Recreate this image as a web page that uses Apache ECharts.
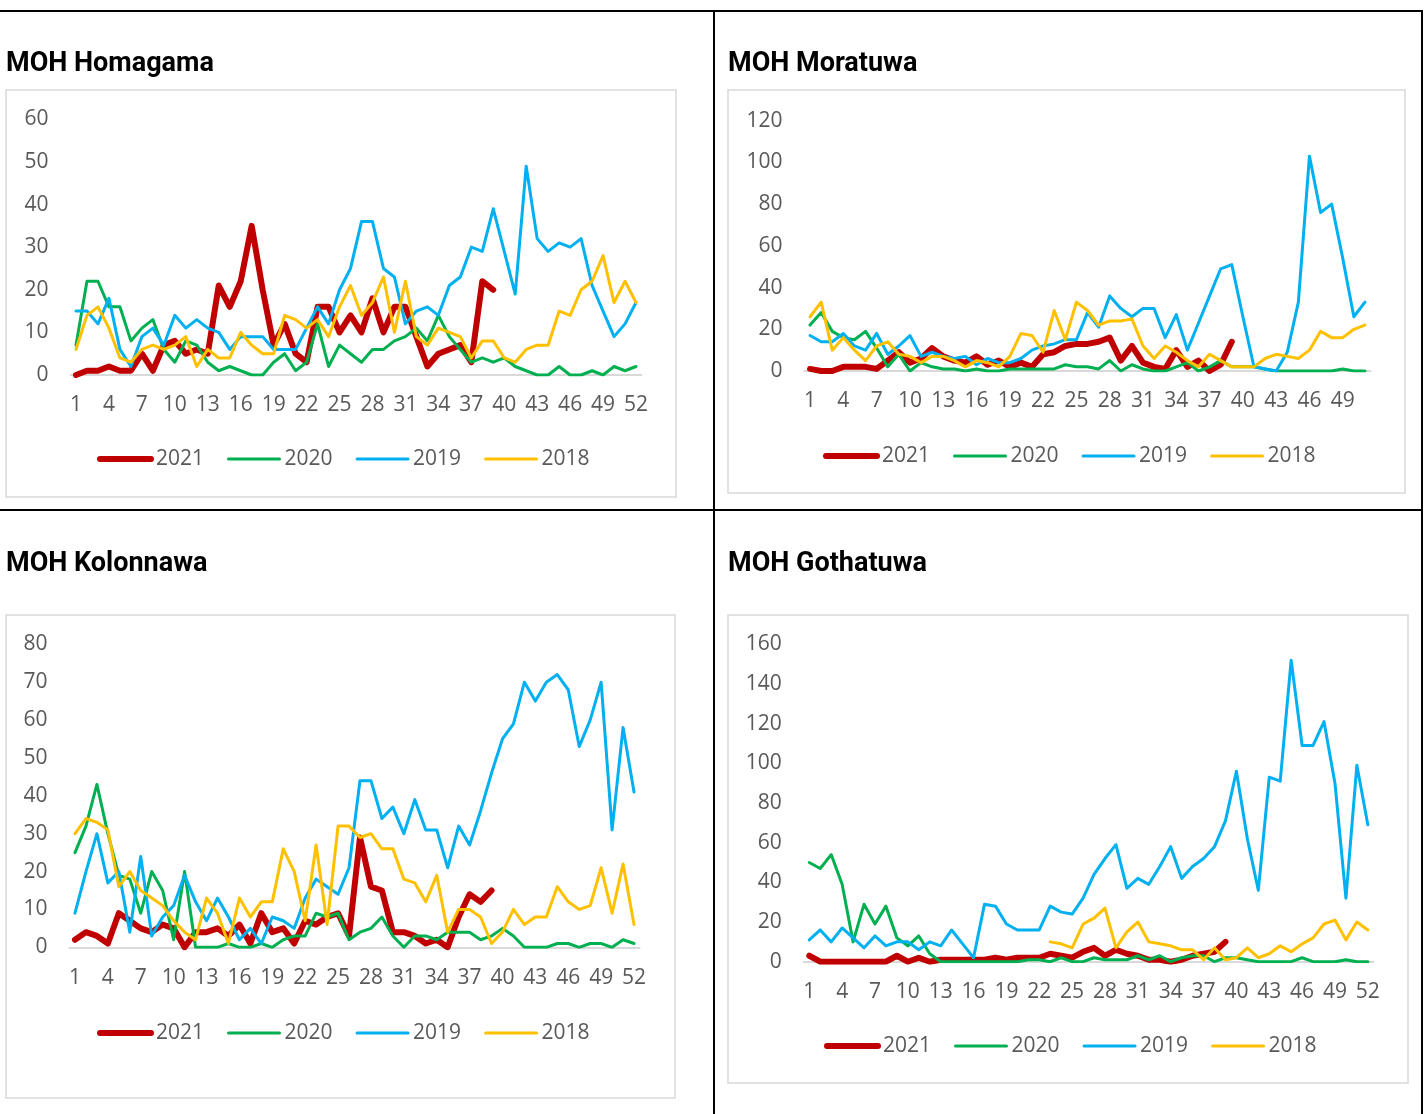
<!DOCTYPE html>
<html><head><meta charset="utf-8">
<script src="https://cdn.jsdelivr.net/npm/echarts@6/dist/echarts.min.js"></script>
<style>html,body{margin:0;padding:0;background:#fff}#c{width:1426px;height:1114px}</style>
</head><body><div id="c"></div>
<script>
// ---- categories (epidemiological weeks) ----
const weeks52 = ['1','2','3','4','5','6','7','8','9','10','11','12','13','14','15','16','17','18','19','20','21','22','23','24','25','26','27','28','29','30','31','32','33','34','35','36','37','38','39','40','41','42','43','44','45','46','47','48','49','50','51','52'];
const weeks51 = ['1','2','3','4','5','6','7','8','9','10','11','12','13','14','15','16','17','18','19','20','21','22','23','24','25','26','27','28','29','30','31','32','33','34','35','36','37','38','39','40','41','42','43','44','45','46','47','48','49','50','51'];
const years = ['2021','2020','2019','2018'];

// ---- MOH Homagama ----
const homagama2021 = [0,1,1,2,1,1,5,1,7,8,5,6,5,21,16,22,35,20,7,12,5,3,16,16,10,14,10,18,10,16,16,9,2,5,6,7,3,22,20];
const homagama2020 = [7,22,22,16,16,8,11,13,6,3,8,7,3,1,2,1,0,0,3,5,1,3,12,2,7,5,3,6,6,8,9,11,8,14,9,6,3,4,3,4,2,1,0,0,2,0,0,1,0,2,1,2];
const homagama2019 = [15,15,12,18,6,2,9,11,7,14,11,13,11,10,6,9,9,9,6,6,6,11,16,12,20,25,36,36,25,23,12,15,16,14,21,23,30,29,39,29,19,49,32,29,31,30,32,21,15,9,12,17];
const homagama2018 = [6,14,16,11,4,3,6,7,6,7,9,2,6,4,4,10,7,5,5,14,13,11,13,9,16,21,14,17,23,10,22,9,7,11,10,9,4,8,8,4,3,6,7,7,15,14,20,22,28,17,22,17];

// ---- MOH Moratuwa ----
const moratuwa2021 = [1,0,0,2,2,2,1,5,9,4,6,11,7,5,4,7,3,5,2,4,2,8,9,12,13,13,14,16,5,12,4,2,1,10,2,5,0,3,14];
const moratuwa2020 = [22,28,19,16,15,19,11,2,8,0,4,2,1,1,0,1,0,0,1,1,1,1,1,3,2,2,1,5,0,3,1,0,0,2,4,0,2,5,2,2,2,1,0,0,0,0,0,0,1,0,0];
const moratuwa2019 = [17,14,14,18,12,10,18,8,12,17,7,9,7,6,7,3,6,4,4,6,10,12,13,15,15,28,21,36,30,26,30,30,16,27,10,23,36,49,51,26,2,1,0,9,33,103,76,80,54,26,33];
const moratuwa2018 = [26,33,10,16,10,5,12,14,8,7,4,7,7,5,2,5,4,2,7,18,17,9,29,15,33,29,22,24,24,25,12,6,12,9,5,2,8,5,2,2,2,6,8,7,6,10,19,16,16,20,22];

// ---- MOH Kolonnawa ----
const kolonnawa2021 = [2,4,3,1,9,7,5,4,6,5,0,4,4,5,3,6,1,9,4,5,1,7,6,8,9,3,29,16,15,4,4,3,1,2,0,8,14,12,15];
const kolonnawa2020 = [25,32,43,30,19,18,9,20,15,2,20,0,0,0,1,0,0,1,0,2,3,3,9,8,9,2,4,5,8,3,0,3,3,2,4,4,4,2,3,5,3,0,0,0,1,1,0,1,1,0,2,1];
const kolonnawa2019 = [9,20,30,17,20,4,24,3,8,11,19,12,7,13,8,2,5,1,8,7,5,13,18,16,14,21,44,44,34,37,30,39,31,31,21,32,27,36,46,55,59,70,65,70,72,68,53,60,70,31,58,41];
const kolonnawa2018 = [30,34,33,31,16,20,15,13,11,7,4,2,13,9,1,13,8,12,12,26,20,7,27,6,32,32,29,30,26,26,18,17,12,19,4,10,10,8,1,4,10,6,8,8,16,12,10,11,21,9,22,6];

// ---- MOH Gothatuwa ----
const gothatuwa2021 = [3,0,0,0,0,0,0,0,3,0,2,0,1,1,1,1,1,2,1,2,2,2,4,3,2,5,7,3,6,4,3,1,1,0,1,3,4,5,10];
const gothatuwa2020 = [50,47,54,39,10,29,19,28,12,8,13,4,0,0,0,0,0,0,0,0,1,1,0,2,0,0,2,1,1,1,3,1,3,0,2,3,3,0,2,2,1,0,0,0,0,2,0,0,0,1,0,0];
const gothatuwa2019 = [11,16,10,17,12,7,13,8,10,10,6,10,8,16,9,2,29,28,19,16,16,16,28,25,24,32,44,52,59,37,42,39,48,58,42,48,52,58,71,96,62,36,93,91,152,109,109,121,90,32,99,69];
const gothatuwa2018 = [null,null,null,null,null,null,null,null,null,null,null,null,null,null,null,null,null,null,null,null,null,null,10,9,7,19,22,27,7,15,20,10,9,8,6,6,1,7,1,2,7,2,4,8,5,9,12,19,21,11,20,16];

// ---- styling ----
const colors = {'2021':'#C00000','2020':'#00B050','2019':'#00B0F0','2018':'#FFC000'};
const widths = {'2021':6,'2020':3,'2019':3,'2018':3};
const FONT = 'Open Sans';
const TFONT = 'Roboto';

const panels = [
  {title:'MOH Homagama', tl:6, tt:49, cats:weeks52, series:[homagama2021,homagama2020,homagama2019,homagama2018], max:60, step:10,
   grid:{left:70.5, top:119.3, width:571, height:255.7}, lg:{left:97, c:459}},
  {title:'MOH Moratuwa', tl:728, tt:49, cats:weeks51, series:[moratuwa2021,moratuwa2020,moratuwa2019,moratuwa2018], max:120, step:20,
   grid:{left:804.5, top:120.7, width:566, height:250.3}, lg:{left:823, c:456}},
  {title:'MOH Kolonnawa', tl:6, tt:549, cats:weeks52, series:[kolonnawa2021,kolonnawa2020,kolonnawa2019,kolonnawa2018], max:80, step:10,
   grid:{left:69.5, top:644.3, width:570, height:303}, lg:{left:97, c:1033}},
  {title:'MOH Gothatuwa', tl:728, tt:549, cats:weeks52, series:[gothatuwa2021,gothatuwa2020,gothatuwa2019,gothatuwa2018], max:160, step:20,
   grid:{left:803.8, top:644.3, width:569.5, height:317.4}, lg:{left:824, c:1046}}
];

const option = {
  backgroundColor:'#fff',
  animation:false,
  title: panels.map(p => ({text:p.title, left:p.tl, top:p.tt, padding:0,
    textStyle:{fontFamily:TFONT, fontWeight:'bold', fontSize:27, color:'#000', lineHeight:30}})),
  legend: panels.map(p => ({data:years, left:p.lg.left, top:p.lg.c-12, padding:0, itemWidth:51, itemHeight:14, itemGap:23,
    selectedMode:false, lineStyle:{width:'inherit', cap:'round'}, itemStyle:{opacity:0},
    textStyle:{fontFamily:FONT, fontSize:21, color:'#595959', padding:[0,0,0,0], lineHeight:24}})),
  grid: panels.map(p => Object.assign({containLabel:false}, p.grid)),
  xAxis: panels.map((p,i) => ({type:'category', gridIndex:i, data:p.cats, boundaryGap:true,
    axisLine:{lineStyle:{color:'#d9d9d9', width:2}}, axisTick:{show:false}, splitLine:{show:false},
    axisLabel:{interval:2, color:'#595959', fontSize:21, fontFamily:FONT, margin:20}})),
  yAxis: panels.map((p,i) => ({type:'value', gridIndex:i, min:0, max:p.max, interval:p.step,
    axisLine:{show:false}, axisTick:{show:false}, splitLine:{show:false},
    axisLabel:{color:'#595959', fontSize:21, fontFamily:FONT, margin:22}})),
  series: [],
  graphic: [
    {type:'line', shape:{x1:0,y1:11,x2:1423,y2:11}, style:{stroke:'#000', lineWidth:2}},
    {type:'line', shape:{x1:714,y1:11,x2:714,y2:1114}, style:{stroke:'#000', lineWidth:2}},
    {type:'line', shape:{x1:0,y1:510,x2:1423,y2:510}, style:{stroke:'#000', lineWidth:2}},
    {type:'line', shape:{x1:1422,y1:11,x2:1422,y2:1114}, style:{stroke:'#000', lineWidth:2}},
    {type:'rect', shape:{x:6,y:90,width:670,height:407}, style:{fill:'none', stroke:'#d9d9d9', lineWidth:1.5}},
    {type:'rect', shape:{x:728,y:90,width:677,height:403}, style:{fill:'none', stroke:'#d9d9d9', lineWidth:1.5}},
    {type:'rect', shape:{x:6,y:615,width:669,height:483}, style:{fill:'none', stroke:'#d9d9d9', lineWidth:1.5}},
    {type:'rect', shape:{x:728,y:615,width:680,height:468}, style:{fill:'none', stroke:'#d9d9d9', lineWidth:1.5}}
  ]
};

panels.forEach((p,i) => {
  years.forEach((y,k) => {
    option.series.push({type:'line', name:y, xAxisIndex:i, yAxisIndex:i, data:p.series[k],
      symbol:'none', showSymbol:false, smooth:false, silent:true,
      lineStyle:{color:colors[y], width:widths[y], cap:'round', join:'round'},
      itemStyle:{color:colors[y]}, emphasis:{disabled:true}});
  });
});

const chart = echarts.init(document.getElementById('c'), null, {renderer:'canvas'});
chart.setOption(option);
</script></body></html>
